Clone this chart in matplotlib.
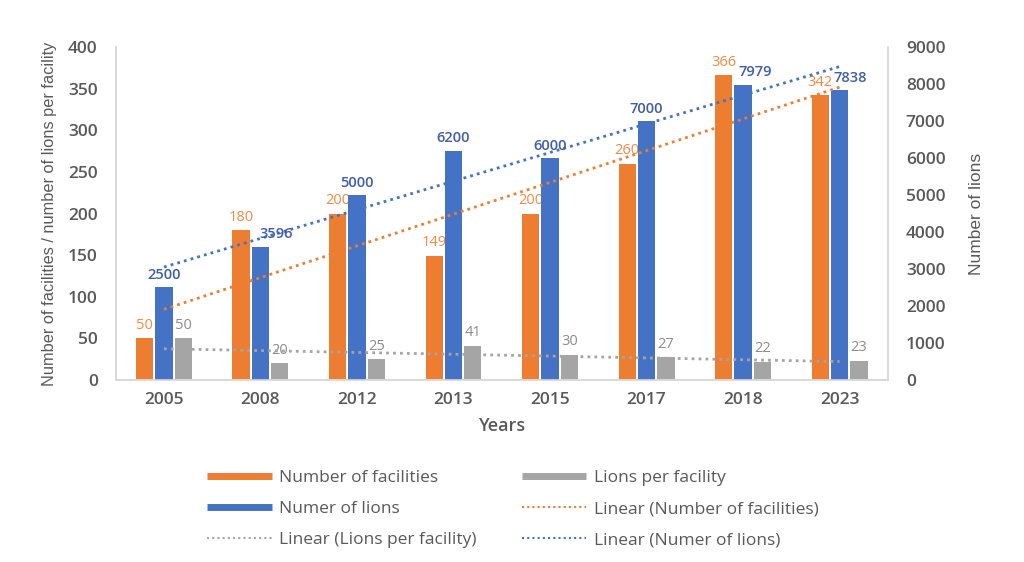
import numpy as np
import matplotlib
matplotlib.use("Agg")
import matplotlib.pyplot as plt
from matplotlib.lines import Line2D

# data
years = ["2005", "2008", "2012", "2013", "2015", "2017", "2018", "2023"]
facilities = [50, 180, 200, 149, 200, 260, 366, 342]
lions = [2500, 3596, 5000, 6200, 6000, 7000, 7979, 7838]
lions_per_facility = [50, 20, 25, 41, 30, 27, 22, 23]

c_orange = "#ED7D31"
c_blue = "#4472C4"
c_grey = "#A5A5A5"
c_text = "#595959"
c_axis = "#D9D9D9"

plt.rcParams["font.family"] = ["Open Sans", "DejaVu Sans"]
narrow = ["Liberation Sans Narrow", "Liberation Sans", "DejaVu Sans"]

fig = plt.figure(figsize=(10.24, 5.62), dpi=100)
ax = fig.add_axes([0.113, 0.324, 0.754, 0.592])
ax2 = ax.twinx()

x = np.arange(len(years))
w = 0.18
off = 0.2

ax.bar(x - off, facilities, w, color=c_orange, zorder=2)
ax.bar(x + off, lions_per_facility, w, color=c_grey, zorder=2)
ax2.bar(x, lions, w, color=c_blue, zorder=2)

# linear trendlines (least squares, like Excel)
dots = (0, (1, 1.5))
p_fac = np.polyfit(x, facilities, 1)
p_lpf = np.polyfit(x, lions_per_facility, 1)
p_lion = np.polyfit(x, lions, 1)
ax2.plot(x, np.polyval(p_fac, x) * 9000 / 400, ls=dots, lw=2, color=c_orange, zorder=5)
ax2.plot(x, np.polyval(p_lpf, x) * 9000 / 400, ls=dots, lw=2, color=c_grey, zorder=5)
ax2.plot(x, np.polyval(p_lion, x), ls=dots, lw=2, color=c_blue, zorder=5)

# data labels (some blue ones were dragged aside in the original)
nudge = {"3596": 11, "7979": 9, "7838": 8}
for xi, v in zip(x, facilities):
    ax.annotate(str(v), (xi - off, v), xytext=(0, 4), textcoords="offset points",
                ha="center", va="bottom", fontsize=10.5, color="#F08A45")
for xi, v in zip(x, lions_per_facility):
    ax.annotate(str(v), (xi + off, v), xytext=(0, 4), textcoords="offset points",
                ha="center", va="bottom", fontsize=10.5, color="#8C8C8C")
for xi, v in zip(x, lions):
    ax2.annotate(str(v), (xi, v), xytext=(nudge.get(str(v), 0), 4), textcoords="offset points",
                 ha="center", va="bottom", fontsize=10.5, color="#3F5DA8", fontweight="semibold",
                 zorder=6)

ax.set_xlim(-0.5, len(years) - 0.5)
ax.set_ylim(0, 400)
ax2.set_ylim(0, 9000)
ax.set_yticks(np.arange(0, 401, 50))
ax2.set_yticks(np.arange(0, 9001, 1000))
ax.set_xticks(x)
ax.set_xticklabels(years)

for a in (ax, ax2):
    a.tick_params(length=0, labelsize=12.5, colors=c_text)
    for s in a.spines.values():
        s.set_color(c_axis)
        s.set_linewidth(1.2)
    a.spines["top"].set_visible(False)
    for t in a.get_xticklabels() + a.get_yticklabels():
        t.set_fontweight("semibold")
ax.tick_params(axis="y", pad=13)
ax2.tick_params(axis="y", pad=13)
ax.tick_params(axis="x", pad=9)

ax.set_ylabel("Number of facilities / number of lions per facility", fontsize=11.8,
              color=c_text, family=narrow, labelpad=8)
ax2.set_ylabel("Number of lions", fontsize=12.5, color=c_text, family=narrow, labelpad=17)
ax.set_xlabel("Years", fontsize=13, color=c_text, fontweight="semibold", labelpad=6)

handles = [
    Line2D([], [], color=c_orange, lw=5, solid_capstyle="butt"),
    Line2D([], [], color=c_blue, lw=5, solid_capstyle="butt"),
    Line2D([], [], color=c_grey, lw=1.5, ls=dots),
    Line2D([], [], color=c_grey, lw=5, solid_capstyle="butt"),
    Line2D([], [], color=c_orange, lw=1.5, ls=dots),
    Line2D([], [], color=c_blue, lw=1.5, ls=dots),
]
labels = ["Number of facilities", "Numer of lions", "Linear (Lions per facility)",
          "Lions per facility", "Linear (Number of facilities)", "Linear (Numer of lions)"]
leg = fig.legend(handles, labels, ncol=2, loc="center", bbox_to_anchor=(0.501, 0.094),
                 frameon=False, fontsize=12.5, handlelength=3.7, handletextpad=0.45,
                 columnspacing=2.6, labelspacing=0.85, borderpad=0)
for t in leg.get_texts():
    t.set_color(c_text)

fig.savefig("out.png", dpi=100)
